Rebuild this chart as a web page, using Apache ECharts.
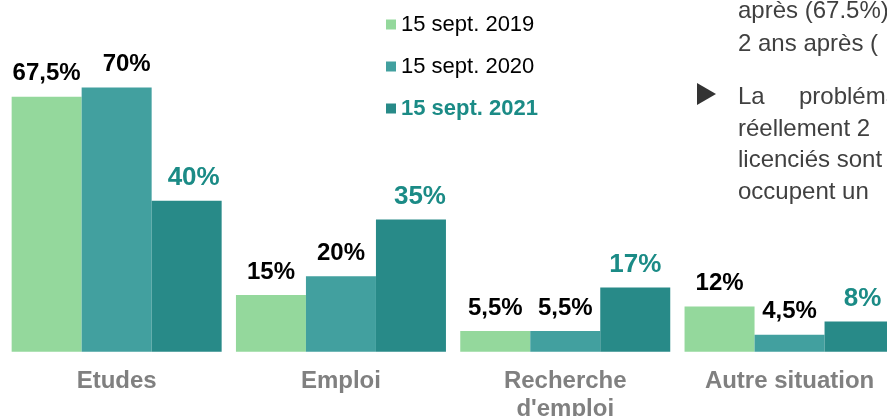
<!DOCTYPE html>
<html>
<head>
<meta charset="utf-8">
<script src="https://cdn.jsdelivr.net/npm/echarts@6/dist/echarts.min.js"></script>
<style>
    html, body { margin: 0; padding: 0; background: #fff; }
    #chart { width: 887px; height: 416px; }
</style>
</head>
<body>
<div id="chart"></div>
<script>
// données
var categories = ['Etudes', 'Emploi', 'Recherche\nd\'emploi', 'Autre situation'];
var seriesNames = ['15 sept. 2019', '15 sept. 2020', '15 sept. 2021'];
var values2019 = [67.5, 15, 5.5, 12];
var values2020 = [70, 20, 5.5, 4.5];
var values2021 = [40, 35, 17, 8];

var FONT = "'Liberation Sans', Arial, sans-serif";
var colors = ['#94d89c', '#42a09f', '#288a88'];
var teal = '#1b8b86';

// petits décalages des étiquettes comme dans l'original
var labelNudge = [[0, 0, 0, 0], [10, 0, 0, 0], [7, 9, 0, 3]];

function pct(v) {
    return String(v).replace('.', ',') + '%';
}

function makeSeries(idx, vals) {
    var last = idx === 2;
    return {
        name: seriesNames[idx],
        type: 'bar',
        barWidth: 70,
        barGap: 0,
        itemStyle: { color: colors[idx] },
        label: {
            show: true,
            position: 'top',
            distance: last ? 10 : 11,
            fontFamily: FONT,
            fontWeight: 'bold',
            fontSize: last ? 26 : 24,
            color: last ? teal : '#000',
            formatter: function (p) { return pct(p.value); }
        },
        data: vals.map(function (v, i) {
            return { value: v, label: { offset: [labelNudge[idx][i], 0] } };
        })
    };
}

var rightText = [
    { text: 'après (67.5%) des licenciés', x: 738, y: 23 },
    { text: '2 ans après (', x: 738, y: 56 },
    { text: 'La', x: 738, y: 109 },
    { text: 'problématique', x: 799, y: 109 },
    { text: 'réellement 2', x: 738, y: 141 },
    { text: 'licenciés sont', x: 738, y: 172 },
    { text: 'occupent un', x: 738, y: 204 }
];

var myChart = echarts.init(document.getElementById('chart'));
var option = {
    animation: false,
    grid: { left: 4.5, right: -14.7, top: 87.4, bottom: 64.3, outerBoundsMode: 'none', containLabel: false },
    legend: {
        orient: 'vertical',
        left: 381,
        top: 8.5,
        icon: 'rect',
        itemWidth: 10,
        itemHeight: 10,
        itemGap: 20,
        textStyle: { fontFamily: FONT, fontSize: 22, color: '#000' },
        data: [
            { name: seriesNames[0] },
            { name: seriesNames[1] },
            { name: seriesNames[2], textStyle: { color: teal, fontWeight: 'bold' } }
        ]
    },
    xAxis: {
        type: 'category',
        data: categories,
        axisLine: { show: false },
        axisTick: { show: false },
        axisLabel: {
            interval: 0,
            margin: 16,
            fontFamily: FONT,
            fontSize: 24,
            fontWeight: 'bold',
            color: '#808080',
            lineHeight: 28
        }
    },
    yAxis: {
        type: 'value',
        min: 0,
        max: 70,
        show: false,
        splitLine: { show: false }
    },
    series: [
        makeSeries(0, values2019),
        makeSeries(1, values2020),
        makeSeries(2, values2021)
    ],
    graphic: rightText.map(function (t) {
        return {
            type: 'text',
            x: t.x,
            y: t.y,
            style: {
                text: t.text,
                font: '24px ' + FONT,
                fill: '#404040',
                verticalAlign: 'bottom'
            }
        };
    }).concat([{
        type: 'polygon',
        shape: { points: [[697, 83], [716, 94], [697, 105]] },
        style: { fill: '#333' }
    }])
};
myChart.setOption(option);
</script>
</body>
</html>
